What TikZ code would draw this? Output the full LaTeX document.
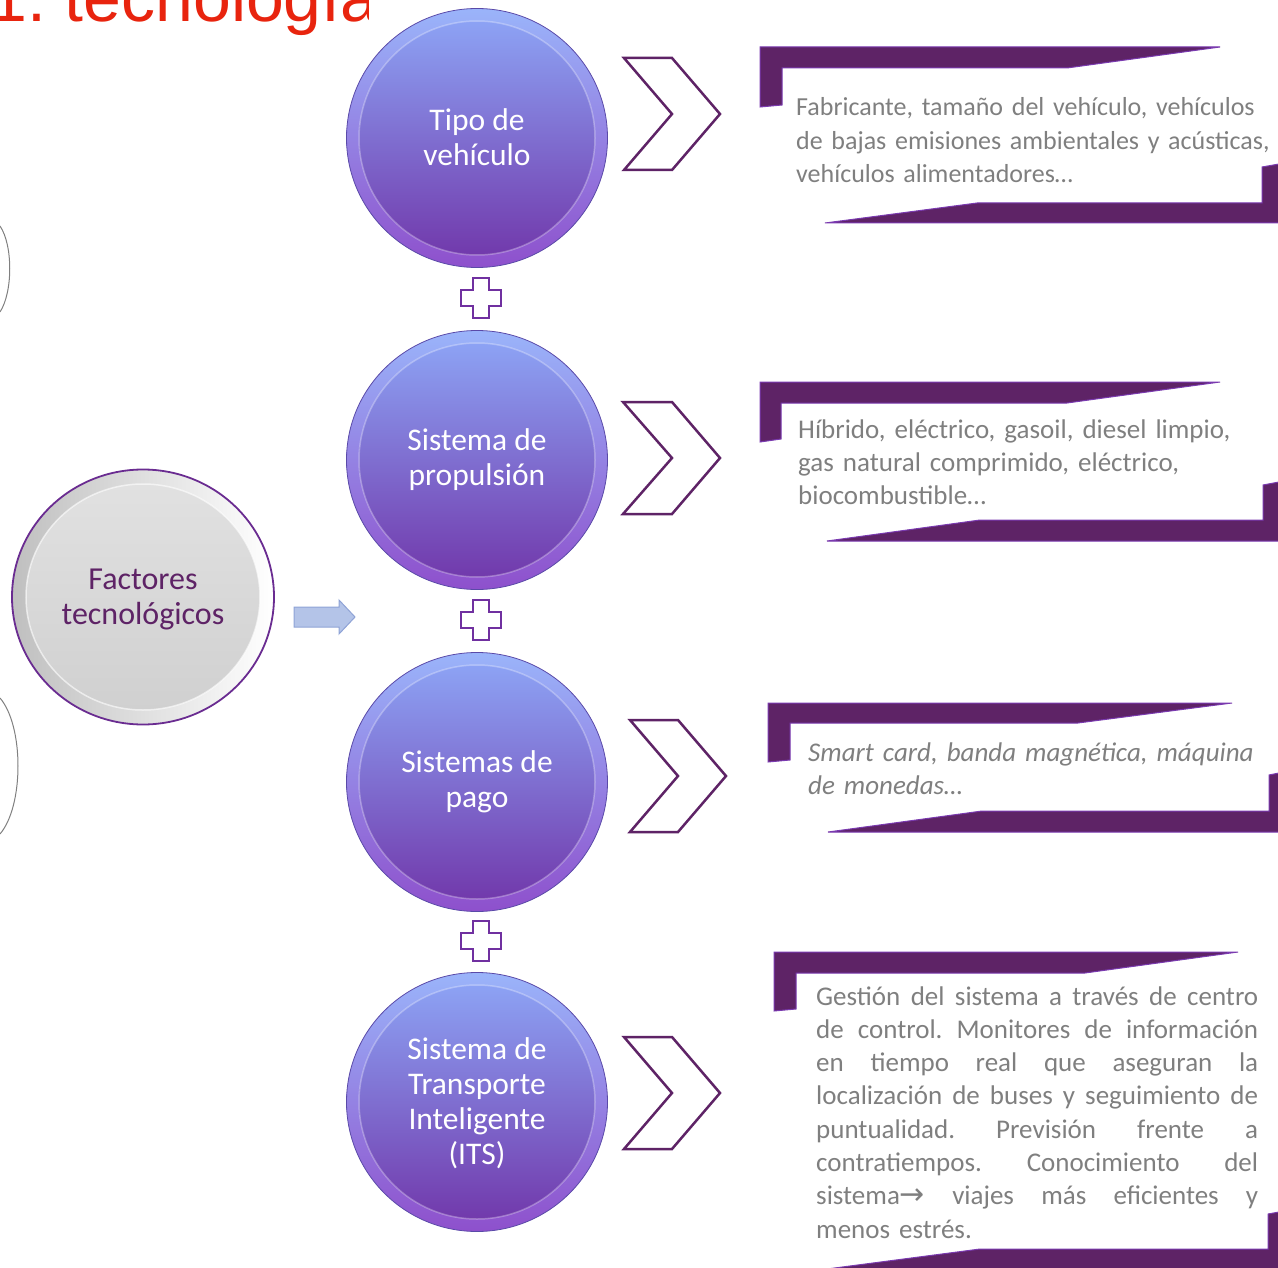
\documentclass[tikz,border=0pt]{standalone}
\usepackage{fontspec}
\setmainfont{Carlito}
\newfontfamily\titlefont{Liberation Sans}
\newfontfamily\arrowfont{DejaVu Sans}
\usetikzlibrary{shapes.geometric}
\frenchspacing
\definecolor{plum}{HTML}{5E2366}
\definecolor{bracketline}{HTML}{7A3AB0}
\definecolor{pluscol}{HTML}{7030A0}
\definecolor{chevcol}{HTML}{5E2366}
\definecolor{txtgray}{HTML}{7F7F7F}
\definecolor{titlered}{HTML}{E8240E}
\definecolor{balltop}{HTML}{8EA8F8}
\definecolor{ballmid}{HTML}{7E66D4}
\definecolor{ballbot}{HTML}{7034A8}
\definecolor{rimtop}{HTML}{9AB4FA}
\definecolor{rimbot}{HTML}{8E50CC}
\definecolor{rimline}{HTML}{5A4AA8}
\definecolor{arrowfill}{HTML}{B4C4E8}
\definecolor{arrowline}{HTML}{8FA3D6}
\definecolor{ellline}{HTML}{6A2C91}
\definecolor{elltop}{HTML}{E2E2E2}
\definecolor{ellbot}{HTML}{CFCFCF}
\tikzset{
  ball/.style={ellipse, minimum width=261pt, minimum height=259pt, inner sep=0pt,
    draw=rimline, line width=0.8pt, top color=rimtop, bottom color=rimbot,
    path picture={
      \shade[top color=balltop, middle color=ballmid, bottom color=ballbot]
        (path picture bounding box.center) ellipse (118pt and 117pt);
      \draw[white, opacity=0.3, line width=1.5pt]
        (path picture bounding box.center) ellipse (118pt and 117pt);
    }},
  balltext/.style={text=white, align=center, inner sep=0pt,
    font=\fontsize{31.5}{35}\selectfont},
  grayball/.style={ellipse, minimum width=262pt, minimum height=255pt, inner sep=0pt,
    draw=ellline, line width=1.8pt, left color=black!25, right color=white,
    path picture={
      \shade[top color=elltop, bottom color=ellbot]
        (path picture bounding box.center) ellipse (117pt and 113pt);
      \draw[white, opacity=0.6, line width=1.5pt]
        (path picture bounding box.center) ellipse (117pt and 113pt);
    }},
  graytext/.style={text=plum, align=center, inner sep=0pt,
    font=\fontsize{32}{35}\selectfont},
  bracket/.style={fill=plum, draw=bracketline, line width=1pt, line join=miter},
  chevron/.style={draw=chevcol, line width=2.5pt, fill=white, line join=miter},
  plussign/.style={draw=pluscol, line width=2.5pt, fill=white, line join=miter},
  boxtext/.style={anchor=base west, inner sep=0pt, text=txtgray, align=left,
    text width=600pt, font=\fontsize{27}{33.3}\selectfont},
  leftarc/.style={draw=black!50, line width=1pt}
}
\newcommand{\jline}[1]{\leavevmode\hbox to 442pt{#1}}
\newcommand{\plusat}[2]{%
  \draw[plussign] (#1-8,#2-20) -- (#1+8,#2-20) -- (#1+8,#2-8) -- (#1+20,#2-8)
    -- (#1+20,#2+8) -- (#1+8,#2+8) -- (#1+8,#2+20) -- (#1-8,#2+20) -- (#1-8,#2+8)
    -- (#1-20,#2+8) -- (#1-20,#2-8) -- (#1-8,#2-8) -- cycle;}
\begin{document}
\begin{tikzpicture}[x=1pt, y=-1pt]
\path[use as bounding box] (0,0) rectangle (1278,1268);

% title (cut off)
\begin{scope}
  \clip (0,0) rectangle (368,60);
  \node[anchor=base west, inner sep=0pt, text=titlered,
    font=\titlefont\fontsize{68}{70}\selectfont] (title) at (-11,22) {1. tecnología};
\end{scope}

% partial outlines at the left edge
\draw[leftarc] (0,226) .. controls (13,245) and (13,292) .. (0,312);
\draw[leftarc] (0,698) .. controls (24,726) and (24,806) .. (0,834);

% central factor
\node[grayball] (factor) at (143,597) {};
\node[graytext] (factortext) at ([yshift=-2pt]factor.center) {Factores\\tecnológicos};

% block arrow
\draw[fill=arrowfill, draw=arrowline, line width=1pt, line join=miter]
  (294,607) -- (339,607) -- (339,600) -- (355,617) -- (339,634) -- (339,627)
  -- (294,627) -- cycle;

% balls
\node[ball] (b1) at (477,138) {};
\node[ball] (b2) at (477,460) {};
\node[ball] (b3) at (477,782) {};
\node[ball] (b4) at (477,1102) {};
\node[balltext] (b1t) at ([yshift=1pt]b1.center) {Tipo de\\vehículo};
\node[balltext] (b2t) at (b2.center) {Sistema de\\propulsión};
\node[balltext] (b3t) at (b3.center) {Sistemas de\\pago};
\node[balltext] (b4t) at ([yshift=-1pt]b4.center) {Sistema de\\Transporte\\Inteligente\\(ITS)};

% plus signs
\plusat{481}{298}
\plusat{481}{620}
\plusat{481}{941}

% chevrons
\draw[chevron] (624,58) -- (672,58) -- (720,114) -- (672,170) -- (624,170) -- (672,114) -- cycle;
\draw[chevron] (623,402) -- (672,402) -- (720,458) -- (672,514) -- (623,514) -- (672,458) -- cycle;
\draw[chevron] (630,720) -- (678,720) -- (726,776) -- (678,832) -- (630,832) -- (678,776) -- cycle;
\draw[chevron] (624,1037) -- (672,1037) -- (720,1093) -- (672,1149) -- (624,1149) -- (672,1093) -- cycle;

% brackets
\draw[bracket] (760,47) -- (1220,47) -- (1067,68) -- (782,68) -- (782,105) -- (760,107) -- cycle;
\draw[bracket] (825,223) -- (977,203) -- (1262,203) -- (1262,167) -- (1279,164) -- (1279,223) -- cycle;
\draw[bracket] (760,382) -- (1220,382) -- (1067,403) -- (781,403) -- (781,439) -- (760,442) -- cycle;
\draw[bracket] (827,541) -- (980,520) -- (1263,520) -- (1263,485) -- (1279,482) -- (1279,541) -- cycle;
\draw[bracket] (768,703) -- (1232,703) -- (1078,723) -- (790,723) -- (790,760) -- (768,762) -- cycle;
\draw[bracket] (828,832) -- (982,811) -- (1269,811) -- (1269,775) -- (1279,773) -- (1279,832) -- cycle;
\draw[bracket] (774,952) -- (1238,952) -- (1085,973) -- (796,973) -- (796,1009) -- (774,1011) -- cycle;
\draw[bracket] (827,1269) -- (980,1249) -- (1268,1249) -- (1268,1214) -- (1279,1212) -- (1279,1269) -- cycle;

% texts
\node[boxtext, font=\fontsize{26}{33.2}\selectfont] (t1) at (796,116) {Fabricante, tamaño del vehículo, vehículos\\de bajas emisiones ambientales y acústicas,\\vehículos alimentadores…};
\node[boxtext] (t2) at (798,438) {Híbrido, eléctrico, gasoil, diesel limpio,\\gas natural comprimido, eléctrico,\\biocombustible…};
\node[boxtext, font=\fontsize{27}{33.3}\selectfont\itshape] (t3) at (808,761) {Smart card, banda magnética, máquina\\de monedas…};
\node[boxtext] (t4) at (816,1005) {\jline{Gestión\hfill del\hfill sistema\hfill a\hfill través\hfill de\hfill centro}\\
\jline{de\hfill control.\hfill Monitores\hfill de\hfill información}\\
\jline{en\hfill tiempo\hfill real\hfill que\hfill aseguran\hfill la}\\
\jline{localización\hfill de\hfill buses\hfill y\hfill seguimiento\hfill de}\\
\jline{puntualidad.\hfill Previsión\hfill frente\hfill a}\\
\jline{contratiempos.\hfill Conocimiento\hfill del}\\
\jline{sistema{\arrowfont\fontsize{30}{33}\selectfont →}\hfill viajes\hfill más\hfill eficientes\hfill y}\\
menos estrés.};
\end{tikzpicture}
\end{document}
